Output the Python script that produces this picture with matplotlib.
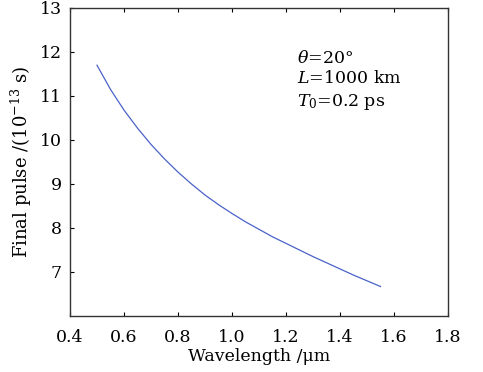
import matplotlib
matplotlib.use("Agg")
import matplotlib.pyplot as plt
import numpy as np

# values
wavelength = [0.50, 0.55, 0.60, 0.65, 0.70, 0.75, 0.80, 0.85, 0.90, 0.95, 1.00,
              1.05, 1.10, 1.15, 1.20, 1.25, 1.30, 1.35, 1.40, 1.45, 1.50, 1.55]
final_pulse = [11.70, 11.15, 10.68, 10.27, 9.90, 9.57, 9.27, 9.00, 8.75, 8.53, 8.33,
               8.14, 7.97, 7.80, 7.65, 7.50, 7.35, 7.21, 7.07, 6.93, 6.80, 6.67]
x_ticks = [0.4, 0.6, 0.8, 1.0, 1.2, 1.4, 1.6, 1.8]
y_ticks = [7, 8, 9, 10, 11, 12, 13]

plt.rcParams['font.family'] = ['DejaVu Serif']
plt.rcParams['mathtext.fontset'] = 'dejavuserif'
plt.rcParams['font.size'] = 12.5

fig = plt.figure(figsize=(4.83, 3.72), dpi=100)
ax = fig.add_axes([70/483, 1 - 316/372, (448-70)/483, (316-8)/372])
ax.plot(wavelength, final_pulse, color='#4a62c8', lw=0.9)

ax.set_xlim(0.4, 1.8)
ax.set_ylim(6, 13)
ax.set_xticks(x_ticks)
ax.set_xticklabels(['%.1f' % v for v in x_ticks])
ax.set_yticks(y_ticks)
ax.tick_params(direction='in', length=3, width=0.8, top=True, right=False)
ax.tick_params(axis='x', pad=9)
ax.tick_params(axis='y', pad=6)
for s in ax.spines.values():
    s.set_linewidth(1.0)
    s.set_color('#333333')

ax.set_xlabel('Wavelength /μm', labelpad=2)
ax.set_ylabel('Final pulse /(10$^{-13}$ s)', labelpad=4, fontsize=13)

ax.text(0.60, 0.865, '$\\theta$=20°\n$L$=1000 km\n$T_0$=0.2 ps', transform=ax.transAxes,
        va='top', ha='left', linespacing=1.3)

fig.savefig('out.png', dpi=100)
